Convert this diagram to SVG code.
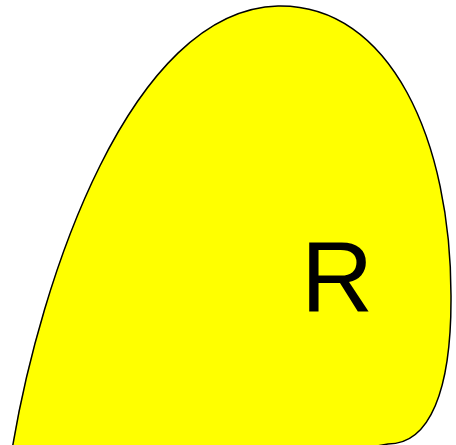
<svg xmlns="http://www.w3.org/2000/svg" width="456" height="445" viewBox="0 0 456 445">
<style>
.blob{fill:#ffff00;stroke:#000;stroke-width:1.5}
.lbl{font-family:"Liberation Sans",Arial,sans-serif;font-size:100px;fill:#000}
</style>
<rect width="456" height="445" fill="#fff"/>
<g id="R">
<path class="blob" d="M 12,450 C 40,280 130,10 278,6 C 390,4 452,140 451,300 C 451,390 430,444 388,444 L 300,460 L 12,460 Z"/>
<text class="lbl" x="337" y="312" text-anchor="middle">R</text>
</g>
</svg>
